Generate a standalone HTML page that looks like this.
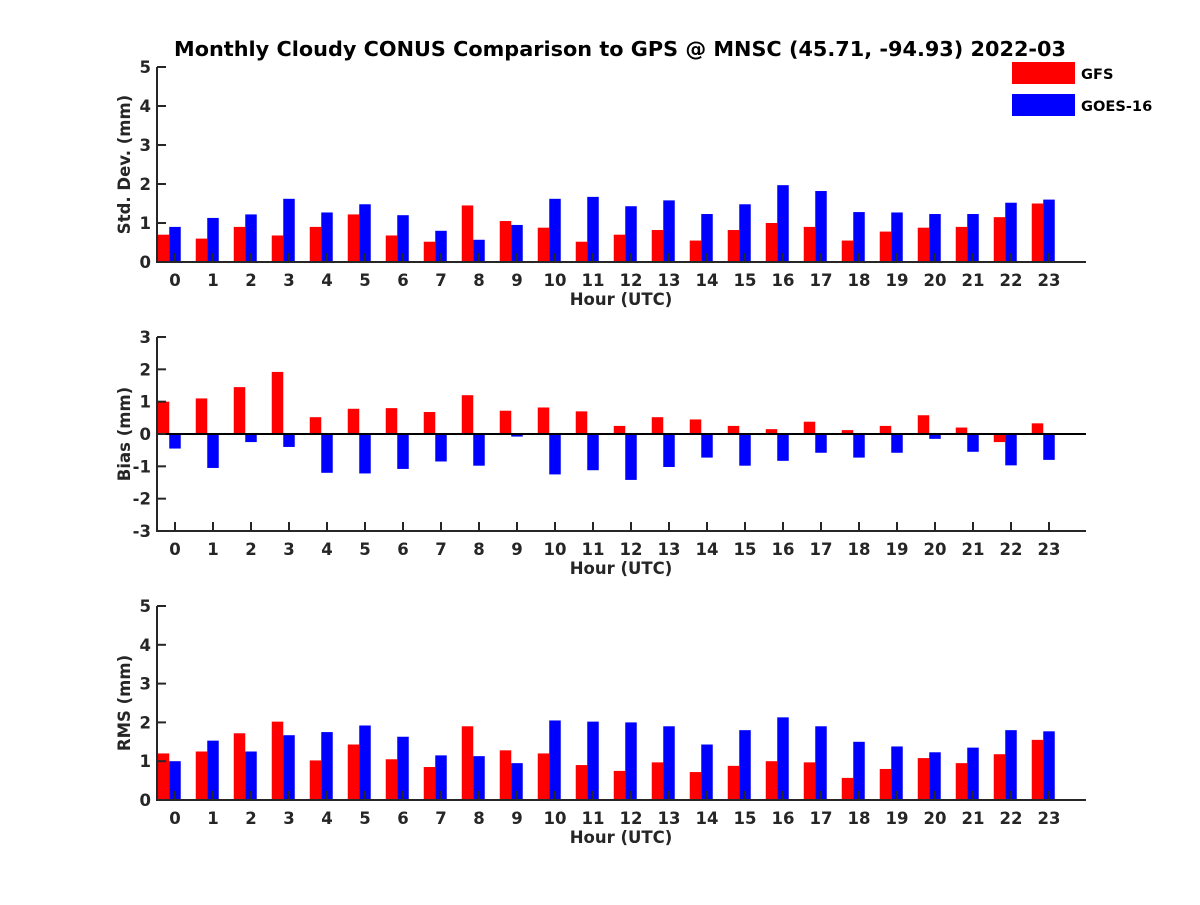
<!DOCTYPE html>
<html><head><meta charset="utf-8"><style>
body{margin:0;background:#fff;width:1200px;height:900px;overflow:hidden}
svg text{font-family:"DejaVu Sans","Liberation Sans",sans-serif;font-weight:bold;fill:#262626}
</style></head><body>
<svg id="c" width="1200" height="900">
<text x="620" y="56" text-anchor="middle" font-size="20.8" style="fill:#000">Monthly Cloudy CONUS Comparison to GPS @ MNSC (45.71, -94.93) 2022-03</text>
<rect x="1012" y="62" width="63" height="22" fill="#f00"/>
<text x="1081" y="79" font-size="14.6" style="fill:#000">GFS</text>
<rect x="1012" y="94" width="63" height="22" fill="#00f"/>
<text x="1081" y="111" font-size="14.6" style="fill:#000">GOES-16</text>
</svg>
<script>
const hours=[0,1,2,3,4,5,6,7,8,9,10,11,12,13,14,15,16,17,18,19,20,21,22,23];
const stdGFS=[0.7,0.6,0.9,0.68,0.9,1.22,0.68,0.52,1.45,1.05,0.88,0.52,0.7,0.82,0.55,0.82,1.0,0.9,0.55,0.78,0.88,0.9,1.15,1.5];
const stdGOES=[0.9,1.13,1.22,1.62,1.27,1.48,1.2,0.8,0.57,0.95,1.62,1.67,1.43,1.58,1.23,1.48,1.97,1.82,1.28,1.27,1.23,1.23,1.52,1.6];
const biasGFS=[1.0,1.1,1.45,1.92,0.52,0.78,0.8,0.68,1.2,0.72,0.82,0.7,0.25,0.52,0.45,0.25,0.15,0.38,0.12,0.25,0.58,0.2,-0.25,0.33];
const biasGOES=[-0.45,-1.05,-0.25,-0.4,-1.2,-1.22,-1.08,-0.85,-0.98,-0.08,-1.25,-1.12,-1.42,-1.02,-0.73,-0.98,-0.83,-0.58,-0.73,-0.58,-0.15,-0.55,-0.97,-0.8];
const rmsGFS=[1.2,1.25,1.72,2.02,1.02,1.43,1.05,0.85,1.9,1.28,1.2,0.9,0.75,0.97,0.72,0.88,1.0,0.97,0.57,0.8,1.08,0.95,1.18,1.55];
const rmsGOES=[1.0,1.53,1.25,1.67,1.75,1.92,1.63,1.15,1.13,0.95,2.05,2.02,2.0,1.9,1.43,1.8,2.13,1.9,1.5,1.38,1.23,1.35,1.8,1.77];
const stdTicks=[0,1,2,3,4,5], biasTicks=[-3,-2,-1,0,1,2,3], rmsTicks=[0,1,2,3,4,5];
const svg=document.getElementById('c');const NS='http://www.w3.org/2000/svg';
function mk(t,a){const e=document.createElementNS(NS,t);for(const k in a)e.setAttribute(k,a[k]);svg.appendChild(e);return e;}
const X=h=>175+h*38, L=157, R=1086, bw=11.5;
function panel(name,top,bot,ymin,ymax,ticks,g,b,ylabel){
  const Y=v=>bot-(v-ymin)/(ymax-ymin)*(bot-top);
  const z=Y(Math.max(0,ymin));
  hours.forEach((h,i)=>{
    let r=mk('rect',{x:X(h)-bw*1.5,y:Math.min(Y(g[i]),z),width:bw,height:Math.abs(Y(g[i])-z),fill:'#f00'});
    
    
    let q=mk('rect',{x:X(h)-bw/2,y:Math.min(Y(b[i]),z),width:bw,height:Math.abs(Y(b[i])-z),fill:'#00f'});
    
    
  });
  if(ymin<0){let zl=mk('line',{x1:L,x2:R,y1:z,y2:z,stroke:'#000','stroke-width':2});}
  let ax=mk('path',{d:`M${L} ${top}V${bot}H${R}`,fill:'none',stroke:'#262626','stroke-width':2});
  
  
  ticks.forEach(t=>{
    mk('line',{x1:L,x2:L+9,y1:Y(t),y2:Y(t),stroke:'#262626','stroke-width':2});
    let tx=mk('text',{x:L-6,y:Y(t)+6,'text-anchor':'end','font-size':16.5});tx.textContent=t;
    
    
  });
  hours.forEach(h=>{
    mk('line',{x1:X(h),x2:X(h),y1:bot,y2:bot-9,stroke:'#262626','stroke-width':2});
    let tx=mk('text',{x:X(h),y:bot+24,'text-anchor':'middle','font-size':16.5});tx.textContent=h;
    
    
  });
  let xl=mk('text',{x:621,y:bot+43,'text-anchor':'middle','font-size':16.5});xl.textContent='Hour (UTC)';
  
  
  const cy=(top+bot)/2;
  let yl=mk('text',{x:0,y:0,'text-anchor':'middle','font-size':16.5,transform:`translate(130 ${cy}) rotate(-90)`});yl.textContent=ylabel;
  
  
}
panel('std',67,262,0,5,stdTicks,stdGFS,stdGOES,'Std. Dev. (mm)');
panel('bias',337,531,-3,3,biasTicks,biasGFS,biasGOES,'Bias (mm)');
panel('rms',606,800,0,5,rmsTicks,rmsGFS,rmsGOES,'RMS (mm)');
</script>
</body></html>
